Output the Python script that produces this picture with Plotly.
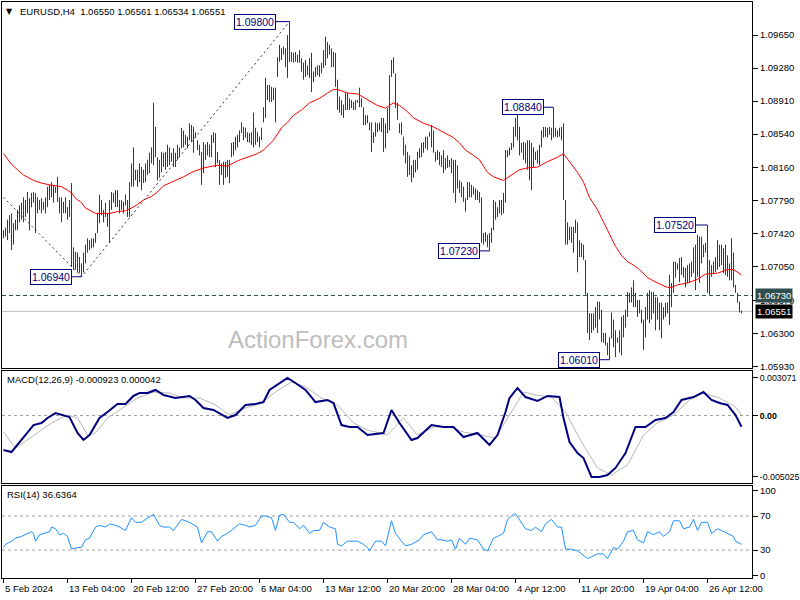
import plotly.graph_objects as go

# ---------------- data ----------------
header_text = "EURUSD,H4  1.06550 1.06561 1.06534 1.06551"
macd_title = "MACD(12,26,9) -0.000923 0.000042"
rsi_title = "RSI(14) 36.6364"

highs = [
    1.0746, 1.0749, 1.0758, 1.0763, 1.0765, 1.0754, 1.0758, 1.0769, 1.0774, 1.0777,
    1.0783, 1.0780, 1.0789, 1.0782, 1.0788, 1.0789, 1.0788, 1.0783, 1.0780, 1.0782,
    1.0778, 1.0783, 1.0795, 1.0797, 1.0800, 1.0797, 1.0795, 1.0806, 1.0783, 1.0783,
    1.0778, 1.0783, 1.0772, 1.0780, 1.0799, 1.0727, 1.0722, 1.0721, 1.0716, 1.0709,
    1.0721, 1.0730, 1.0737, 1.0735, 1.0737, 1.0737, 1.0743, 1.0765, 1.0786, 1.0780,
    1.0769, 1.0777, 1.0765, 1.0780, 1.0789, 1.0788, 1.0791, 1.0791, 1.0780, 1.0780,
    1.0778, 1.0786, 1.0780, 1.0800, 1.0821, 1.0839, 1.0814, 1.0814, 1.0821, 1.0817,
    1.0814, 1.0821, 1.0825, 1.0833, 1.0839, 1.0889, 1.0862, 1.0828, 1.0825, 1.0834,
    1.0833, 1.0834, 1.0842, 1.0839, 1.0833, 1.0838, 1.0833, 1.0842, 1.0839, 1.0861,
    1.0858, 1.0853, 1.0851, 1.0866, 1.0864, 1.0862, 1.0856, 1.0847, 1.0842, 1.0834,
    1.0845, 1.0842, 1.0845, 1.0842, 1.0853, 1.0856, 1.0855, 1.0834, 1.0825, 1.0821,
    1.0823, 1.0823, 1.0825, 1.0825, 1.0844, 1.0845, 1.0851, 1.0853, 1.0858, 1.0867,
    1.0862, 1.0861, 1.0856, 1.0855, 1.0856, 1.0878, 1.0861, 1.0856, 1.0851, 1.0861,
    1.0884, 1.0917, 1.0909, 1.0909, 1.0907, 1.0906, 1.0906, 1.0940, 1.0954, 1.0950,
    1.0952, 1.0950, 1.0965, 1.0980, 1.0946, 1.0945, 1.0946, 1.0943, 1.0948, 1.0939,
    1.0934, 1.0937, 1.0931, 1.0939, 1.0945, 1.0924, 1.0929, 1.0931, 1.0931, 1.0934,
    1.0948, 1.0963, 1.0957, 1.0954, 1.0950, 1.0946, 1.0945, 1.0915, 1.0896, 1.0892,
    1.0887, 1.0900, 1.0900, 1.0894, 1.0892, 1.0890, 1.0892, 1.0892, 1.0906, 1.0894,
    1.0884, 1.0875, 1.0875, 1.0867, 1.0867, 1.0856, 1.0867, 1.0866, 1.0867, 1.0872,
    1.0872, 1.0866, 1.0883, 1.0920, 1.0937, 1.0940, 1.0922, 1.0889, 1.0866, 1.0867,
    1.0851, 1.0842, 1.0834, 1.0830, 1.0819, 1.0825, 1.0825, 1.0834, 1.0838, 1.0844,
    1.0845, 1.0851, 1.0851, 1.0856, 1.0864, 1.0858, 1.0834, 1.0836, 1.0834, 1.0830,
    1.0836, 1.0827, 1.0830, 1.0825, 1.0827, 1.0825, 1.0825, 1.0819, 1.0802, 1.0800,
    1.0795, 1.0782, 1.0800, 1.0800, 1.0797, 1.0795, 1.0793, 1.0791, 1.0789, 1.0783,
    1.0743, 1.0744, 1.0741, 1.0743, 1.0749, 1.0780, 1.0778, 1.0772, 1.0780, 1.0780,
    1.0788, 1.0836, 1.0836, 1.0839, 1.0844, 1.0862, 1.0872, 1.0878, 1.0862, 1.0844,
    1.0845, 1.0844, 1.0847, 1.0847, 1.0844, 1.0839, 1.0834, 1.0836, 1.0842, 1.0858,
    1.0862, 1.0862, 1.0861, 1.0862, 1.0861, 1.0884, 1.0861, 1.0858, 1.0861, 1.0862,
    1.0866, 1.0780, 1.0755, 1.0750, 1.0750, 1.0750, 1.0758, 1.0755, 1.0735, 1.0732,
    1.0730, 1.0713, 1.0676, 1.0653, 1.0653, 1.0653, 1.0660, 1.0666, 1.0666, 1.0657,
    1.0631, 1.0631, 1.0620, 1.0626, 1.0654, 1.0646, 1.0634, 1.0626, 1.0634, 1.0649,
    1.0651, 1.0657, 1.0677, 1.0676, 1.0682, 1.0690, 1.0676, 1.0668, 1.0668, 1.0657,
    1.0646, 1.0660, 1.0676, 1.0679, 1.0677, 1.0677, 1.0671, 1.0671, 1.0665, 1.0665,
    1.0660, 1.0665, 1.0665, 1.0696, 1.0687, 1.0711, 1.0711, 1.0709, 1.0715, 1.0716,
    1.0705, 1.0704, 1.0707, 1.0709, 1.0711, 1.0727, 1.0730, 1.0741, 1.0739, 1.0739,
    1.0730, 1.0732, 1.0752, 1.0713, 1.0707, 1.0711, 1.0716, 1.0735, 1.0730, 1.0730,
    1.0726, 1.0730, 1.0718, 1.0709, 1.0737, 1.0721, 1.0685, 1.0676, 1.0666, 1.0656,
]
lows = [
    1.0737, 1.0739, 1.0735, 1.0743, 1.0724, 1.0730, 1.0746, 1.0746, 1.0755, 1.0758,
    1.0755, 1.0761, 1.0765, 1.0746, 1.0772, 1.0777, 1.0743, 1.0765, 1.0769, 1.0765,
    1.0769, 1.0765, 1.0772, 1.0780, 1.0783, 1.0777, 1.0788, 1.0778, 1.0765, 1.0755,
    1.0765, 1.0765, 1.0758, 1.0761, 1.0705, 1.0702, 1.0702, 1.0699, 1.0698, 1.0694,
    1.0699, 1.0709, 1.0721, 1.0724, 1.0726, 1.0727, 1.0732, 1.0743, 1.0754, 1.0763,
    1.0755, 1.0761, 1.0750, 1.0732, 1.0769, 1.0777, 1.0772, 1.0772, 1.0765, 1.0769,
    1.0765, 1.0774, 1.0761, 1.0761, 1.0795, 1.0795, 1.0802, 1.0795, 1.0800, 1.0791,
    1.0799, 1.0800, 1.0808, 1.0810, 1.0821, 1.0819, 1.0828, 1.0802, 1.0805, 1.0811,
    1.0817, 1.0814, 1.0817, 1.0819, 1.0823, 1.0817, 1.0817, 1.0825, 1.0828, 1.0838,
    1.0839, 1.0842, 1.0838, 1.0847, 1.0845, 1.0833, 1.0850, 1.0836, 1.0830, 1.0797,
    1.0810, 1.0825, 1.0830, 1.0828, 1.0828, 1.0844, 1.0817, 1.0821, 1.0797, 1.0808,
    1.0797, 1.0805, 1.0806, 1.0799, 1.0828, 1.0830, 1.0836, 1.0839, 1.0845, 1.0855,
    1.0847, 1.0850, 1.0845, 1.0844, 1.0842, 1.0839, 1.0842, 1.0845, 1.0839, 1.0847,
    1.0867, 1.0872, 1.0892, 1.0890, 1.0890, 1.0892, 1.0867, 1.0918, 1.0935, 1.0937,
    1.0943, 1.0929, 1.0917, 1.0935, 1.0935, 1.0934, 1.0935, 1.0934, 1.0934, 1.0924,
    1.0915, 1.0918, 1.0920, 1.0917, 1.0901, 1.0912, 1.0918, 1.0920, 1.0918, 1.0922,
    1.0928, 1.0931, 1.0939, 1.0943, 1.0929, 1.0929, 1.0907, 1.0881, 1.0878, 1.0875,
    1.0872, 1.0881, 1.0881, 1.0881, 1.0883, 1.0881, 1.0881, 1.0889, 1.0884, 1.0884,
    1.0864, 1.0864, 1.0866, 1.0858, 1.0834, 1.0844, 1.0851, 1.0856, 1.0858, 1.0856,
    1.0834, 1.0838, 1.0855, 1.0858, 1.0918, 1.0922, 1.0883, 1.0870, 1.0855, 1.0853,
    1.0830, 1.0821, 1.0806, 1.0808, 1.0800, 1.0805, 1.0811, 1.0814, 1.0827, 1.0828,
    1.0833, 1.0838, 1.0836, 1.0851, 1.0839, 1.0833, 1.0823, 1.0825, 1.0819, 1.0817,
    1.0810, 1.0814, 1.0816, 1.0817, 1.0810, 1.0788, 1.0777, 1.0793, 1.0788, 1.0783,
    1.0778, 1.0767, 1.0780, 1.0783, 1.0783, 1.0786, 1.0780, 1.0780, 1.0777, 1.0732,
    1.0730, 1.0733, 1.0727, 1.0723, 1.0732, 1.0746, 1.0758, 1.0761, 1.0765, 1.0763,
    1.0765, 1.0777, 1.0828, 1.0830, 1.0836, 1.0839, 1.0851, 1.0847, 1.0830, 1.0833,
    1.0825, 1.0821, 1.0814, 1.0802, 1.0791, 1.0817, 1.0825, 1.0821, 1.0819, 1.0839,
    1.0850, 1.0851, 1.0850, 1.0853, 1.0847, 1.0850, 1.0851, 1.0850, 1.0851, 1.0847,
    1.0780, 1.0730, 1.0730, 1.0735, 1.0732, 1.0721, 1.0743, 1.0699, 1.0716, 1.0716,
    1.0713, 1.0674, 1.0631, 1.0623, 1.0631, 1.0634, 1.0637, 1.0631, 1.0646, 1.0621,
    1.0620, 1.0617, 1.0606, 1.0601, 1.0625, 1.0615, 1.0604, 1.0620, 1.0609, 1.0606,
    1.0626, 1.0637, 1.0649, 1.0665, 1.0665, 1.0660, 1.0660, 1.0649, 1.0653, 1.0642,
    1.0612, 1.0626, 1.0646, 1.0642, 1.0646, 1.0653, 1.0634, 1.0646, 1.0634, 1.0625,
    1.0646, 1.0649, 1.0653, 1.0640, 1.0660, 1.0676, 1.0693, 1.0702, 1.0688, 1.0696,
    1.0693, 1.0682, 1.0687, 1.0688, 1.0694, 1.0698, 1.0679, 1.0694, 1.0687, 1.0709,
    1.0716, 1.0721, 1.0676, 1.0674, 1.0694, 1.0698, 1.0699, 1.0702, 1.0705, 1.0707,
    1.0698, 1.0696, 1.0694, 1.0690, 1.0690, 1.0682, 1.0676, 1.0665, 1.0654, 1.0653,
]

ma_idx = [0, 4, 7, 10, 15, 19, 23, 27, 29, 32,
          34, 36, 39, 41, 44, 46, 53, 57, 61, 64,
          67, 70, 74, 77, 80, 84, 90, 94, 100, 107,
          112, 117, 122, 127, 130, 135, 139, 142, 145, 149,
          153, 158, 162, 165, 167, 172, 177, 182, 187, 191,
          195, 198, 202, 205, 210, 214, 218, 222, 225, 228,
          231, 235, 238, 242, 245, 250, 254, 258, 262, 267,
          272, 277, 280, 283, 287, 290, 293, 297, 300, 303,
          306, 309, 312, 315, 318, 322, 327, 332, 334, 337,
          342, 347, 351, 357, 362, 365, 367, 369]
ma_val = [1.0832, 1.0820, 1.0814, 1.0808, 1.0802, 1.0799, 1.0797, 1.0796, 1.0795, 1.0791,
          1.0788, 1.0782, 1.0777, 1.0771, 1.0767, 1.0765, 1.0765, 1.0767, 1.0768, 1.0771,
          1.0775, 1.0780, 1.0784, 1.0789, 1.0796, 1.0800, 1.0806, 1.0811, 1.0816, 1.0819,
          1.0818, 1.0824, 1.0828, 1.0832, 1.0836, 1.0847, 1.0861, 1.0867, 1.0875, 1.0881,
          1.0889, 1.0894, 1.0900, 1.0904, 1.0904, 1.0900, 1.0899, 1.0892, 1.0886, 1.0883,
          1.0889, 1.0886, 1.0879, 1.0872, 1.0866, 1.0863, 1.0858, 1.0853, 1.0850, 1.0844,
          1.0836, 1.0830, 1.0825, 1.0811, 1.0806, 1.0802, 1.0808, 1.0814, 1.0816, 1.0817,
          1.0823, 1.0828, 1.0832, 1.0823, 1.0811, 1.0800, 1.0783, 1.0769, 1.0755, 1.0741,
          1.0728, 1.0718, 1.0711, 1.0707, 1.0702, 1.0693, 1.0687, 1.0682, 1.0682, 1.0685,
          1.0687, 1.0691, 1.0697, 1.0698, 1.0702, 1.0702, 1.0699, 1.0696]

zigzag_idx = [0, 39, 143]
zigzag_val = [1.0783, 1.0694, 1.0980]

swing_idx = [143, 39, 243, 275, 303, 352]
swing_val = [1.0980, 1.0694, 1.0723, 1.0884, 1.0601, 1.0752]
swing_text = ["1.09800", "1.06940", "1.07230", "1.08840", "1.06010", "1.07520"]

level_line = 1.0673
last_price = 1.06551

price_ticks = [1.0965, 1.0928, 1.0891, 1.0854, 1.0816, 1.0779, 1.0742, 1.0705, 1.0667, 1.0630, 1.0593]
price_tick_text = ["1.09650", "1.09280", "1.08910", "1.08540", "1.08160", "1.07790",
                   "1.07420", "1.07050", "1.06670", "1.06300", "1.05930"]

macd_idx = [0, 4, 6, 10, 15, 19, 22, 26, 29, 33,
            37, 40, 43, 48, 52, 57, 61, 65, 68, 72,
            76, 80, 86, 93, 96, 100, 105, 112, 116, 121,
            126, 130, 133, 139, 142, 146, 151, 156, 162, 165,
            169, 173, 177, 182, 187, 190, 194, 198, 204, 207,
            214, 220, 225, 230, 237, 243, 247, 251, 253, 257,
            261, 267, 272, 278, 280, 283, 287, 290, 294, 298,
            302, 306, 311, 316, 321, 326, 331, 335, 339, 345,
            350, 354, 358, 362, 366, 369]
macd_val = [-0.00282, -0.00299, -0.00258, -0.00176, -0.00078, -0.00061, -0.00020, 0.00020, 0.00004, -0.00012,
            -0.00143, -0.00200, -0.00160, -0.00020, 0.00029, 0.00094, 0.00094, 0.00160, 0.00184, 0.00184,
            0.00209, 0.00168, 0.00143, 0.00160, 0.00127, 0.00061, 0.00045, -0.00020, 0.00004, 0.00086,
            0.00094, 0.00110, 0.00209, 0.00274, 0.00307, 0.00266, 0.00209, 0.00110, 0.00127, 0.00102,
            -0.00078, -0.00094, -0.00094, -0.00160, -0.00151, -0.00143, 0.00045, -0.00061, -0.00200, -0.00184,
            -0.00078, -0.00094, -0.00094, -0.00176, -0.00143, -0.00241, -0.00160, 0.00029, 0.00143, 0.00225,
            0.00151, 0.00119, 0.00160, 0.00151, -0.00020, -0.00217, -0.00307, -0.00348, -0.00503, -0.00503,
            -0.00487, -0.00429, -0.00307, -0.00094, -0.00094, -0.00037, -0.00020, 0.00029, 0.00127, 0.00151,
            0.00192, 0.00127, 0.00102, 0.00086, 0.00004, -0.00092]

signal_idx = [0, 6, 14, 24, 32, 37, 42, 46, 52, 60,
              67, 75, 83, 90, 98, 106, 113, 121, 129, 136,
              144, 151, 159, 167, 175, 182, 192, 200, 207, 215,
              223, 230, 238, 246, 253, 260, 266, 274, 281, 289,
              297, 304, 312, 320, 327, 335, 343, 350, 358, 366,
              369]
signal_val = [-0.00135, -0.00266, -0.00176, -0.00061, 0.00004, -0.00020, -0.00160, -0.00143, -0.00020, 0.00070,
              0.00143, 0.00192, 0.00184, 0.00143, 0.00143, 0.00086, 0.00004, 0.00061, 0.00102, 0.00192,
              0.00274, 0.00233, 0.00143, 0.00086, -0.00061, -0.00119, -0.00160, -0.00020, -0.00160, -0.00094,
              -0.00094, -0.00135, -0.00160, -0.00184, 0.00004, 0.00192, 0.00168, 0.00151, 0.00029, -0.00217,
              -0.00429, -0.00487, -0.00405, -0.00160, -0.00061, 0.00004, 0.00127, 0.00184, 0.00143, 0.00070,
              0.00004]
macd_ticks = [0.003071, 0.0, -0.005025]
macd_tick_text = ["0.003071", "<b>0.00</b>", "-0.005025"]

rsi_idx = [0, 1, 4, 6, 9, 11, 14, 15, 16, 18,
           20, 23, 24, 26, 28, 30, 32, 34, 37, 39,
           41, 43, 46, 48, 51, 53, 56, 58, 61, 64,
           66, 69, 71, 74, 75, 78, 80, 83, 85, 89,
           93, 97, 99, 102, 104, 107, 109, 112, 115, 118,
           121, 123, 126, 129, 131, 134, 136, 138, 140, 143,
           145, 148, 150, 153, 155, 158, 160, 163, 166, 167,
           169, 172, 175, 177, 180, 182, 183, 186, 189, 191,
           194, 196, 199, 201, 204, 208, 210, 214, 217, 219,
           222, 224, 226, 228, 231, 233, 237, 240, 242, 245,
           247, 250, 252, 255, 256, 259, 261, 264, 266, 269,
           271, 274, 277, 279, 281, 284, 287, 289, 292, 294,
           297, 300, 302, 305, 307, 310, 312, 315, 317, 320,
           322, 325, 328, 330, 333, 335, 338, 340, 343, 345,
           347, 349, 352, 354, 357, 359, 362, 365, 366, 369]
rsi_val = [33, 36.7, 40.4, 44, 46, 48, 51.5, 49.6, 40.4, 48,
           49.6, 51.5, 57, 55, 48, 49.6, 46, 31, 33, 33,
           42, 44, 57, 59, 57, 60.7, 59, 57, 53, 68,
           62.6, 62.6, 66, 70, 72, 59, 57, 57, 53, 66,
           62.6, 57, 38.5, 51.5, 51.5, 40.4, 46, 49.6, 55, 60.7,
           59, 57, 59, 70, 70, 68, 53, 71, 72, 62.6,
           62.6, 55, 59, 49.6, 53, 53, 62.6, 57, 55, 36.7,
           35, 40.4, 40.4, 40.4, 36.7, 33, 29, 40.4, 40.4, 35,
           64.4, 49.6, 40.4, 35, 36.7, 42, 48, 51.5, 42, 42,
           40.4, 42, 31, 44, 36.7, 44, 42, 31, 29, 44,
           46, 49.6, 66, 72, 72.6, 62.6, 55, 53, 57, 51.5,
           60.7, 66, 57, 57, 31, 31, 29, 25.5, 20, 22,
           25.5, 25.5, 20, 33, 31, 40.4, 51.5, 53, 42, 38.5,
           51.5, 48, 51.5, 46, 51.5, 64.4, 64.4, 55, 57, 66,
           53, 62.6, 62.6, 49.6, 55, 53, 49.6, 46, 40.4, 36.6]
rsi_ticks = [100, 70, 30, 0]
rsi_levels = [70, 30]

date_idx = [0, 32, 64, 96, 128, 160, 192, 224, 256, 288, 320, 352]
date_labels = ["5 Feb 2024", "13 Feb 04:00", "20 Feb 12:00", "27 Feb 20:00", "6 Mar 04:00",
               "13 Mar 12:00", "20 Mar 20:00", "28 Mar 04:00", "4 Apr 12:00", "11 Apr 20:00",
               "19 Apr 04:00", "26 Apr 12:00"]

# ---------------- figure ----------------
FONT = "Liberation Sans, Arial, sans-serif"
BAR_COLOR = "#174360"
XR = [-0.75, 374.25]

bx, by = [], []
for i, (h, l) in enumerate(zip(highs, lows)):
    bx += [i, i, None]
    by += [l, h, None]

fig = go.Figure()
fig.add_trace(go.Scatter(x=bx, y=by, mode="lines", line=dict(color=BAR_COLOR, width=1),
                         xaxis="x", yaxis="y", hoverinfo="skip"))
fig.add_trace(go.Scatter(x=ma_idx, y=ma_val, mode="lines", line=dict(color="#ff0000", width=1),
                         xaxis="x", yaxis="y", hoverinfo="skip"))
fig.add_trace(go.Scatter(x=zigzag_idx, y=zigzag_val, mode="lines",
                         line=dict(color="#333333", width=1, dash="2px,3px"),
                         xaxis="x", yaxis="y", hoverinfo="skip"))
fig.add_trace(go.Scatter(x=signal_idx, y=signal_val, mode="lines", line=dict(color="#b8b8b8", width=1),
                         xaxis="x2", yaxis="y2", hoverinfo="skip"))
fig.add_trace(go.Scatter(x=macd_idx, y=macd_val, mode="lines", line=dict(color="#000080", width=2),
                         xaxis="x2", yaxis="y2", hoverinfo="skip"))
fig.add_trace(go.Scatter(x=rsi_idx, y=rsi_val, mode="lines", line=dict(color="#1e90ff", width=1),
                         xaxis="x3", yaxis="y3", hoverinfo="skip"))

shapes = [
    dict(type="line", xref="x domain", yref="y", x0=0, x1=1, y0=last_price, y1=last_price,
         line=dict(color="#c0c0c0", width=1), layer="below"),
    dict(type="line", xref="x domain", yref="y", x0=0, x1=1, y0=level_line, y1=level_line,
         line=dict(color="#2f4f4f", width=1, dash="4px,3px"), layer="below"),
    dict(type="line", xref="x2 domain", yref="y2", x0=0, x1=1, y0=0, y1=0,
         line=dict(color="#a0a0a0", width=1, dash="3px,3px"), layer="below"),
]
for lv in rsi_levels:
    shapes.append(dict(type="line", xref="x3 domain", yref="y3", x0=0, x1=1, y0=lv, y1=lv,
                       line=dict(color="#a0a0a0", width=1, dash="3px,3px"), layer="below"))

ann = []
small = dict(family=FONT, size=9.5, color="black")
ann.append(dict(xref="paper", yref="paper", x=0, y=1, xanchor="left", yanchor="top",
                xshift=2, yshift=-3, text="▼", showarrow=False,
                font=dict(family="DejaVu Sans", size=8, color="black")))
ann.append(dict(xref="paper", yref="paper", x=0, y=1, xanchor="left", yanchor="top",
                xshift=16, yshift=-2, text=header_text.replace("  ", "&nbsp;&nbsp;"),
                showarrow=False, font=small))
ann.append(dict(xref="x", yref="y", x=157, y=1.0624, text="ActionForex.com", showarrow=False,
                font=dict(family=FONT, size=24, color="#bdbdbd")))
offsets = [-35, -31, -31, -31, -31, -33]
for xi, yv, tx, off in zip(swing_idx, swing_val, swing_text, offsets):
    ann.append(dict(xref="x", yref="y", x=xi, y=yv, text=tx, showarrow=True, arrowhead=0,
                    arrowwidth=1, arrowcolor="#000080", ax=off, ay=0, axref="pixel", ayref="pixel",
                    bordercolor="#000080", borderwidth=1, borderpad=1, bgcolor="white",
                    font=dict(family=FONT, size=10.5, color="#000080")))
ann.append(dict(xref="paper", yref="y", x=1, y=level_line, xanchor="left", yanchor="middle",
                xshift=3, text="1.06730", showarrow=False, bgcolor="#2f4f4f", borderpad=1,
                font=dict(family=FONT, size=9.5, color="white")))
ann.append(dict(xref="paper", yref="y", x=1, y=last_price, xanchor="left", yanchor="middle",
                xshift=3, text="1.06551", showarrow=False, bgcolor="black", borderpad=1,
                font=dict(family=FONT, size=9.5, color="white")))
ann.append(dict(xref="paper", yref="y2 domain", x=0, y=1, xanchor="left", yanchor="top",
                xshift=3, yshift=-1, text=macd_title, showarrow=False, font=small))
ann.append(dict(xref="paper", yref="y3 domain", x=0, y=1, xanchor="left", yanchor="top",
                xshift=3, yshift=-1, text=rsi_title, showarrow=False, font=small))
for xi, lab in zip(date_idx, date_labels):
    ann.append(dict(xref="x3", yref="paper", x=xi, y=0, xanchor="left", yanchor="top",
                    xshift=-1, yshift=-3, text=lab, showarrow=False, font=small))

xcommon = dict(range=XR, showgrid=False, zeroline=False, showline=True, mirror=True,
               linecolor="black", linewidth=1, showticklabels=False, fixedrange=True)
ycommon = dict(side="right", showgrid=False, zeroline=False, showline=True, mirror=True,
               linecolor="black", linewidth=1, ticks="outside", ticklen=5, tickcolor="black",
               fixedrange=True)

fig.update_layout(
    width=800, height=600,
    margin=dict(l=2, r=48, t=2, b=22, autoexpand=False),
    paper_bgcolor="white", plot_bgcolor="white",
    showlegend=False, hovermode=False,
    font=dict(family=FONT, size=9.5, color="black"),
    xaxis=dict(**xcommon, anchor="y", ticks=""),
    xaxis2=dict(**xcommon, anchor="y2", ticks=""),
    xaxis3=dict(**xcommon, anchor="y3", ticks="outside", ticklen=4, tickcolor="black",
                tickvals=date_idx),
    yaxis=dict(**ycommon, anchor="x", domain=[0.36458, 1.0], range=[1.05917, 1.10020],
               tickvals=price_ticks, ticktext=price_tick_text, tickfont=small),
    yaxis2=dict(**ycommon, anchor="x2", domain=[0.16493, 0.359375], range=[-0.00552, 0.00364],
                tickvals=macd_ticks, ticktext=macd_tick_text,
                tickfont=dict(family=FONT, size=8.8, color="black")),
    yaxis3=dict(**ycommon, anchor="x3", domain=[0.0, 0.159722], range=[-2.9, 105.3],
                tickvals=rsi_ticks, ticktext=[str(t) for t in rsi_ticks], tickfont=small),
    shapes=shapes,
    annotations=ann,
)

fig.write_html("out.html", config={"displayModeBar": False},
               post_script="document.body.style.margin='0';document.body.style.padding='0';")
